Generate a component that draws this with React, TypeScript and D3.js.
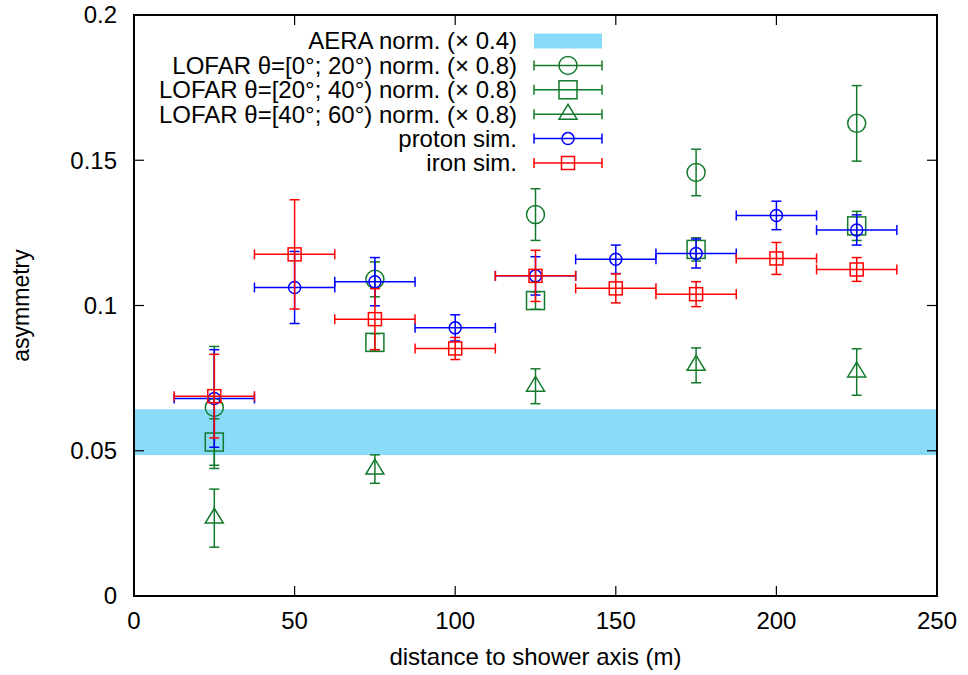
import { useMemo } from "react";
import * as d3 from "d3";

const WIDTH = 968;
const HEIGHT = 675;
const MARGIN = { top: 15, right: 31, bottom: 79, left: 134 };

// distance bins (m)
const simDistances = [25, 50, 75, 100, 125, 150, 175, 200, 225];
const lofarDistances = [25, 75, 125, 175, 225];
const binHalfWidth = 12.5;

const aeraBand = [0.0485, 0.0643];

const lofar0to20 = [0.0649, 0.109, 0.1313, 0.1458, 0.1627];
const lofar0to20Err = [0.021, 0.006, 0.0089, 0.008, 0.013];
const lofar20to40 = [0.053, 0.0873, 0.1017, 0.1193, 0.1274];
const lofar20to40Err = [0.008, 0.003, 0.003, 0.004, 0.005];
const lofar40to60 = [0.0268, 0.0437, 0.0722, 0.0794, 0.0771];
const lofar40to60Err = [0.01, 0.0049, 0.006, 0.006, 0.008];

const protonSim = [0.068, 0.1062, 0.1082, 0.0923, 0.1102, 0.1159, 0.1179, 0.131, 0.126];
const protonSimErr = [0.0168, 0.0124, 0.0083, 0.0045, 0.0066, 0.0049, 0.005, 0.0049, 0.0052];
const ironSim = [0.0688, 0.1176, 0.0953, 0.0852, 0.1102, 0.1059, 0.1039, 0.1162, 0.1124];
const ironSimErr = [0.0144, 0.0188, 0.0105, 0.0038, 0.0088, 0.005, 0.0043, 0.0055, 0.0041];

const xTicks = [0, 50, 100, 150, 200, 250];
const yTicks = [0, 0.05, 0.1, 0.15, 0.2];
const yTickLabels = ["0", "0.05", "0.1", "0.15", "0.2"];

const GREEN = "#137a2c";
const BLUE = "#0000ff";
const RED = "#ff0000";
const BAND = "#89dbf8";
const FONT = "'Liberation Sans', Arial, Helvetica, sans-serif";
const FS = 24;
const CAP = 5;
const TICK = 10;

type Shape = "circle" | "square" | "triangle";

const Marker = ({ x, y, shape, size, color }: { x: number; y: number; shape: Shape; size: number; color: string }) => {
  if (shape === "circle") {
    return <circle cx={x} cy={y} r={size} fill="none" stroke={color} strokeWidth={1.5} />;
  }
  if (shape === "square") {
    return <rect x={x - size} y={y - size} width={size * 2} height={size * 2} fill="none" stroke={color} strokeWidth={1.5} />;
  }
  const h = size * 1.65;
  const pts = [
    [x, y - (h * 2) / 3],
    [x - size, y + h / 3],
    [x + size, y + h / 3],
  ];
  return <polygon points={pts.map((p) => p.join(",")).join(" ")} fill="none" stroke={color} strokeWidth={1.5} />;
};

type Series = {
  label: string;
  xs: number[];
  ys: number[];
  errs: number[];
  xerr: boolean;
  shape: Shape;
  size: number;
  color: string;
};

const series: Series[] = [
  { label: "LOFAR θ=[0°; 20°) norm. (× 0.8)", xs: lofarDistances, ys: lofar0to20, errs: lofar0to20Err, xerr: false, shape: "circle", size: 9, color: GREEN },
  { label: "LOFAR θ=[20°; 40°) norm. (× 0.8)", xs: lofarDistances, ys: lofar20to40, errs: lofar20to40Err, xerr: false, shape: "square", size: 9, color: GREEN },
  { label: "LOFAR θ=[40°; 60°) norm. (× 0.8)", xs: lofarDistances, ys: lofar40to60, errs: lofar40to60Err, xerr: false, shape: "triangle", size: 9, color: GREEN },
  { label: "proton sim.", xs: simDistances, ys: protonSim, errs: protonSimErr, xerr: true, shape: "circle", size: 6, color: BLUE },
  { label: "iron sim.", xs: simDistances, ys: ironSim, errs: ironSimErr, xerr: true, shape: "square", size: 6.5, color: RED },
];

const App = () => {
  const boundsWidth = WIDTH - MARGIN.left - MARGIN.right;
  const boundsHeight = HEIGHT - MARGIN.top - MARGIN.bottom;

  const xScale = useMemo(() => d3.scaleLinear().domain([0, 250]).range([0, boundsWidth]), [boundsWidth]);
  const yScale = useMemo(() => d3.scaleLinear().domain([0, 0.2]).range([boundsHeight, 0]), [boundsHeight]);

  const legendRight = 517 - MARGIN.left;
  const sampleX0 = 534 - MARGIN.left;
  const sampleX1 = 602 - MARGIN.left;
  const sampleMid = (sampleX0 + sampleX1) / 2;
  const legendY = (i: number) => 41 - MARGIN.top + i * 24.4;

  return (
    <svg
      width={WIDTH}
      height={HEIGHT}
      style={{ position: "absolute", left: 0, top: 0, background: "#fff" }}
      fontFamily={FONT}
    >
      <g transform={`translate(${MARGIN.left},${MARGIN.top})`}>
        {/* AERA band */}
        <rect
          x={0}
          y={yScale(aeraBand[1])}
          width={boundsWidth}
          height={yScale(aeraBand[0]) - yScale(aeraBand[1])}
          fill={BAND}
        />

        {/* data */}
        {series.map((s, si) => (
          <g key={si} stroke={s.color} strokeWidth={1.5}>
            {s.xs.map((d, i) => {
              const cx = xScale(d);
              const cy = yScale(s.ys[i]);
              const top = yScale(s.ys[i] + s.errs[i]);
              const bot = yScale(s.ys[i] - s.errs[i]);
              const left = xScale(d - binHalfWidth);
              const right = xScale(d + binHalfWidth);
              return (
                <g key={i}>
                  <line x1={cx} x2={cx} y1={top} y2={bot} />
                  <line x1={cx - CAP} x2={cx + CAP} y1={top} y2={top} />
                  <line x1={cx - CAP} x2={cx + CAP} y1={bot} y2={bot} />
                  {s.xerr && (
                    <>
                      <line x1={left} x2={right} y1={cy} y2={cy} />
                      <line x1={left} x2={left} y1={cy - CAP} y2={cy + CAP} />
                      <line x1={right} x2={right} y1={cy - CAP} y2={cy + CAP} />
                    </>
                  )}
                  <Marker x={cx} y={cy} shape={s.shape} size={s.size} color={s.color} />
                </g>
              );
            })}
          </g>
        ))}

        {/* legend */}
        <text x={legendRight} y={legendY(0)} dy="0.35em" textAnchor="end" fontSize={FS} fill="#000">
          AERA norm. (× 0.4)
        </text>
        <rect x={sampleX0} y={legendY(0) - 7.5} width={sampleX1 - sampleX0} height={15} fill={BAND} />
        {series.map((s, si) => {
          const y = legendY(si + 1);
          return (
            <g key={si}>
              <text x={legendRight} y={y} dy="0.35em" textAnchor="end" fontSize={FS} fill="#000">
                {s.label}
              </text>
              <g stroke={s.color} strokeWidth={1.5}>
                <line x1={sampleX0} x2={sampleX1} y1={y} y2={y} />
                <line x1={sampleX0} x2={sampleX0} y1={y - CAP} y2={y + CAP} />
                <line x1={sampleX1} x2={sampleX1} y1={y - CAP} y2={y + CAP} />
              </g>
              <Marker x={sampleMid} y={y} shape={s.shape} size={s.size} color={s.color} />
            </g>
          );
        })}

        {/* ticks, mirrored on all sides */}
        <g stroke="#000" strokeWidth={1.2}>
          {xTicks.map((t) => (
            <g key={t}>
              <line x1={xScale(t)} x2={xScale(t)} y1={boundsHeight} y2={boundsHeight - TICK} />
              <line x1={xScale(t)} x2={xScale(t)} y1={0} y2={TICK} />
            </g>
          ))}
          {yTicks.map((t) => (
            <g key={t}>
              <line x1={0} x2={TICK} y1={yScale(t)} y2={yScale(t)} />
              <line x1={boundsWidth} x2={boundsWidth - TICK} y1={yScale(t)} y2={yScale(t)} />
            </g>
          ))}
        </g>
        <rect x={0} y={0} width={boundsWidth} height={boundsHeight} fill="none" stroke="#000" strokeWidth={2} />

        {xTicks.map((t) => (
          <text key={t} x={xScale(t)} y={boundsHeight + 33} textAnchor="middle" fontSize={FS} fill="#000">
            {t}
          </text>
        ))}
        {yTicks.map((t, i) => (
          <text key={t} x={-17} y={yScale(t)} dy="0.35em" textAnchor="end" fontSize={FS} fill="#000">
            {yTickLabels[i]}
          </text>
        ))}

        <text x={boundsWidth / 2} y={boundsHeight + 69} textAnchor="middle" fontSize={FS} fill="#000">
          distance to shower axis (m)
        </text>
        <text
          transform={`translate(${-MARGIN.left + 29},${boundsHeight / 2}) rotate(-90)`}
          textAnchor="middle"
          fontSize={FS - 1}
          fill="#000"
        >
          asymmetry
        </text>
      </g>
    </svg>
  );
};

export default App;
